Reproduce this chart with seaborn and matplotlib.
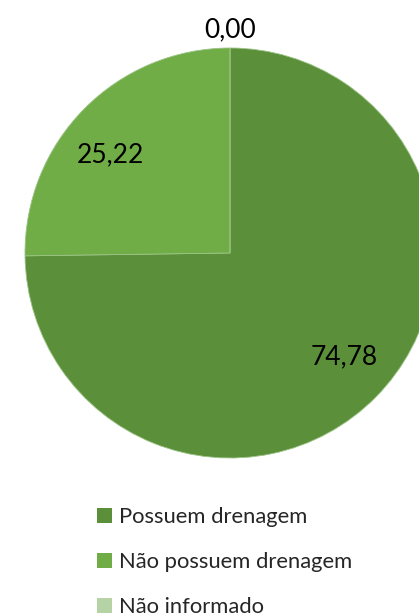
import numpy as np
import seaborn as sns
import matplotlib.pyplot as plt

categorias = ["Possuem drenagem", "Não possuem drenagem", "Não informado"]
valores = [74.78, 25.22, 0.00]
rotulos = ["74,78", "25,22", "0,00"]
cores = ["#5B8F3A", "#70AD47", "#B6D3A6"]

sns.set_theme(style="white")
plt.rcParams["font.family"] = ["Lato", "DejaVu Sans"]

fig = plt.figure(figsize=(4.19, 6.15), dpi=100)
ax = fig.add_axes([0, 0, 1, 1])

wedges, _ = ax.pie(valores, colors=cores, startangle=90, counterclock=False,
                   center=(230, 362), radius=205, frame=True,
                   wedgeprops={"linewidth": 0.6, "edgecolor": "#9CC486"})
ax.set_xlim(0, 419)
ax.set_ylim(0, 615)
ax.set_aspect("equal")
ax.axis("off")

# posições dos rótulos (pixels a partir do topo)
pos_rotulos = [(344, 357), (110, 155), (230, 30)]
for txt, (x, y) in zip(rotulos, pos_rotulos):
    ax.text(x, 615 - y, txt, ha="center", va="center", fontsize=19, color="black")

leg = ax.legend(wedges, categorias, loc="upper left",
                bbox_to_anchor=(97 / 419, 1 - 507 / 615), bbox_transform=fig.transFigure,
                frameon=False, fontsize=15.8, handlelength=0.68, handleheight=0.68,
                handletextpad=0.3, labelspacing=1.15, borderpad=0, borderaxespad=0)
for h in leg.legend_handles:
    h.set_edgecolor("none")

fig.savefig("out.png", dpi=100)
